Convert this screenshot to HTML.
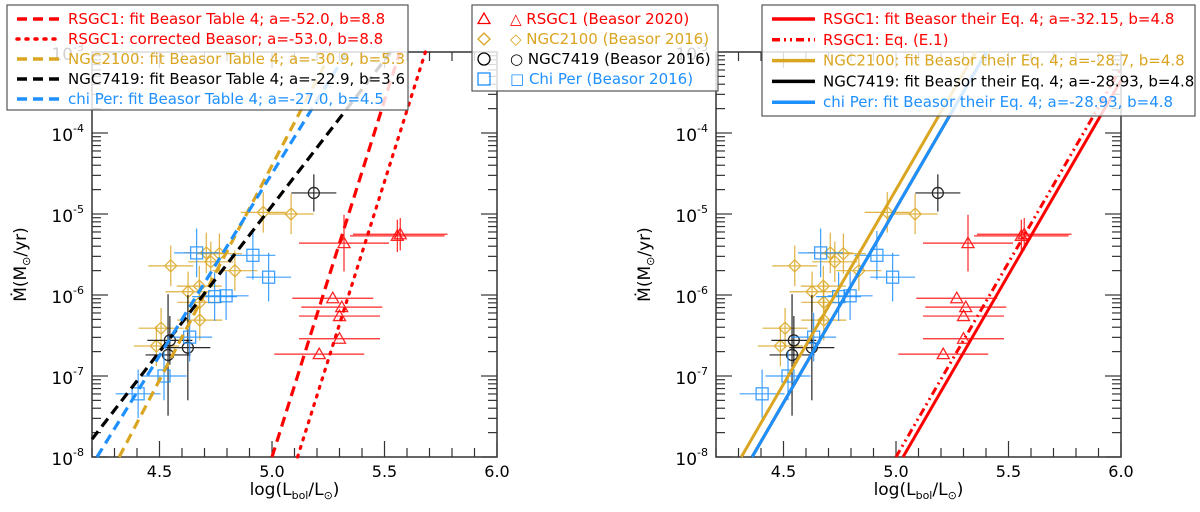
<!DOCTYPE html>
<html><head><meta charset="utf-8"><style>
html,body{margin:0;padding:0;background:#fff;width:1200px;height:512px;overflow:hidden;}
svg{display:block;font-family:"DejaVu Sans","Liberation Sans",sans-serif;overflow:hidden;}
</style></head><body>
<svg id="chart" width="1200" height="512" viewBox="0 0 1200 512" xmlns="http://www.w3.org/2000/svg"></svg>
<script>
const rsgc1X=[5.557,5.57,5.32,5.27,5.31,5.30,5.30,5.21];
const rsgc1Y=[-5.27,-5.25,-5.36,-6.04,-6.15,-6.26,-6.54,-6.73];
const rsgc1Xe=[0.21,0.21,0.2,0.18,0.18,0.18,0.18,0.2];
const rsgc1Ye=[0.2,0.2,0.35,0,0,0,0,0];
const ngc2100X=[4.961,5.085,4.55,4.708,4.766,4.728,4.835,4.677,4.627,4.679,4.679,4.507,4.486];
const ngc2100Y=[-4.98,-5.0,-5.64,-5.48,-5.49,-5.59,-5.70,-5.89,-5.96,-6.09,-6.31,-6.41,-6.63];
const ngc7419X=[5.186,4.546,4.538,4.626];
const ngc7419Y=[-4.74,-6.56,-6.74,-6.65];
const ngc7419Ye=[0.23,0.3,0.75,0.65];
const chiPerX=[4.665,4.915,4.985,4.745,4.796,4.634,4.52,4.405];
const chiPerY=[-5.48,-5.51,-5.78,-6.02,-6.01,-6.52,-7.0,-7.22];
const leftFitA=[-52.0,-53.0,-30.9,-22.9,-27.0];
const leftFitB=[8.8,8.8,5.3,3.6,4.5];
const rightFitA=[-32.15,-32.0,-28.7,-28.93,-28.93];
const rightFitB=[4.8,4.8,4.8,4.8,4.8];
const xTicks=[4.5,5.0,5.5,6.0];
const yTicks=[-3,-4,-5,-6,-7,-8];

const NS="http://www.w3.org/2000/svg";
const svg=document.getElementById('chart');
const RED="#ff0000",GOLD="#daa520",BLK="#000000",BLUE="#1e90ff";
function mk(tag,attrs,parent){const e=document.createElementNS(NS,tag);for(const k in attrs)e.setAttribute(k,attrs[k]);(parent||svg).appendChild(e);return e;}

function panel(ox,id){
  const L=ox,R=ox+405,T=52,B=457,xmin=4.2,xmax=6.0,ymin=-8,ymax=-3;
  const sx=v=>L+(v-xmin)/(xmax-xmin)*(R-L);
  const sy=v=>B-(v-ymin)/(ymax-ymin)*(B-T);
  const g=mk('g',{});
  
  
  for(let v=4.2;v<=6.0001;v+=0.1){
    const major=Math.abs(v*2-Math.round(v*2))<1e-6;const len=major?16:9;
    mk('line',{x1:sx(v),x2:sx(v),y1:B,y2:B-len,stroke:'#333','stroke-width':1.2},g);
    mk('line',{x1:sx(v),x2:sx(v),y1:T,y2:T+len,stroke:'#333','stroke-width':1.2},g);
  }
  for(let d=-8;d<-3;d++){for(let m=1;m<10;m++){const v=d+Math.log10(m);const len=m===1?16:9;
    mk('line',{x1:L,x2:L+len,y1:sy(v),y2:sy(v),stroke:'#333','stroke-width':1.2},g);
    mk('line',{x1:R,x2:R-len,y1:sy(v),y2:sy(v),stroke:'#333','stroke-width':1.2},g);}}
  mk('rect',{x:L,y:T,width:R-L,height:B-T,fill:'none',stroke:'#333','stroke-width':1.5},g);
  xTicks.forEach(v=>{const t=mk('text',{x:sx(v),y:B+20,'text-anchor':'middle','font-size':16},g);t.textContent=v.toFixed(1);
    });
  yTicks.forEach(v=>{const t=mk('text',{x:L-8,y:sy(v)+8,'text-anchor':'end','font-size':17},g);
    
    t.appendChild(document.createTextNode('10'));const s=mk('tspan',{'font-size':11,dy:-9},t);s.textContent=String(v);});
  const xl=mk('text',{x:(L+R)/2,y:495,'text-anchor':'middle','font-size':17},g);
  
  xl.appendChild(document.createTextNode('log(L'));let s=mk('tspan',{'font-size':11,dy:4},xl);s.textContent='bol';
  s=mk('tspan',{dy:-4},xl);s.textContent='/L';s=mk('tspan',{'font-size':11,dy:4},xl);s.textContent='\u2299';s=mk('tspan',{dy:-4},xl);s.textContent=')';
  const yx=L-66,yy=(T+B)/2+10;
  const yl=mk('text',{x:yx,y:yy,'text-anchor':'middle','font-size':17,transform:`rotate(-90 ${yx} ${yy})`},g);
  
  yl.appendChild(document.createTextNode('\u1E40(M'));s=mk('tspan',{'font-size':11,dy:4},yl);s.textContent='\u2299';s=mk('tspan',{dy:-4},yl);s.textContent='/yr)';
  return {g,sx,sy,xmin,xmax,ymin,ymax};
}

function fitLine(P,a,b,color,dash,w,name){
  // clip the segment to the data box analytically
  let x0=Math.max(P.xmin,(P.ymin-a)/b), x1=Math.min(P.xmax,(P.ymax-a)/b);
  if(x1<=x0)return;
  const l=mk('line',{x1:P.sx(x0),y1:P.sy(a+b*x0),x2:P.sx(x1),y2:P.sy(a+b*x1),stroke:color,'stroke-width':w,'stroke-dasharray':dash,'stroke-linecap':dash==='2,7'?'round':'butt'},P.g);
  
}
function marker(g,type,x,y,color,r){
  let e;
  if(type==='tri')e=mk('polygon',{points:`${x},${y-r} ${x-r},${y+r*0.75} ${x+r},${y+r*0.75}`,fill:'none',stroke:color,'stroke-width':1.3},g);
  else if(type==='dia')e=mk('polygon',{points:`${x},${y-r} ${x+r},${y} ${x},${y+r} ${x-r},${y}`,fill:'none',stroke:color,'stroke-width':1.3},g);
  else if(type==='circ')e=mk('circle',{cx:x,cy:y,r:r,fill:'none',stroke:color,'stroke-width':1.3},g);
  else e=mk('rect',{x:x-r,y:y-r,width:2*r,height:2*r,fill:'none',stroke:color,'stroke-width':1.3},g);
  return e;
}
function series(P,type,X,Y,Xe,Ye,color,name){
  for(let i=0;i<X.length;i++){
    const cx=P.sx(X[i]),cy=P.sy(Y[i]);
    const pg=mk('g',{opacity:0.85},P.g);
    
    mk('line',{x1:P.sx(X[i]-Xe[i]),x2:P.sx(X[i]+Xe[i]),y1:cy,y2:cy,stroke:color,'stroke-width':1.2},pg);
    if(Ye[i]>0)mk('line',{x1:cx,x2:cx,y1:P.sy(Y[i]+Ye[i]),y2:P.sy(Y[i]-Ye[i]),stroke:color,'stroke-width':1.2},pg);
    marker(pg,type,cx,cy,color,type==='circ'?5.5:6);
  }
}
function allData(P){
  series(P,'tri',rsgc1X,rsgc1Y,rsgc1Xe,rsgc1Ye,RED,'rsgc1');
  series(P,'dia',ngc2100X,ngc2100Y,ngc2100X.map(()=>0.1),ngc2100Y.map(()=>0.25),GOLD,'ngc2100');
  series(P,'circ',ngc7419X,ngc7419Y,ngc7419X.map(()=>0.1),ngc7419Ye,BLK,'ngc7419');
  series(P,'sq',chiPerX,chiPerY,chiPerX.map(()=>0.1),chiPerY.map(()=>0.3),BLUE,'chi-per');
}
function legend(x,y,w,h,rows,name){
  const g=mk('g',{});
  mk('rect',{x,y,width:w,height:h,fill:'#fff','fill-opacity':0.82,stroke:'#555','stroke-width':1.2},g);
  rows.forEach((r,i)=>{const ry=y+14+i*r.step;
    if(r.dash!==undefined)mk('line',{x1:x+10,x2:x+53,y1:ry,y2:ry,stroke:r.c,'stroke-width':3.5,'stroke-dasharray':r.dash,'stroke-linecap':r.dash==='2,7'?'round':'butt'},g);
    else{marker(g,r.m,x+12,ry,r.c,6);}
    const t=mk('text',{x:x+r.tx,y:ry+5,'font-size':15,fill:r.c},g);t.textContent=r.t;
    
  });
}
const P1=panel(92,'left-panel');
allData(P1);
const ld=['10,6','2,7','10,6','10,6','10,6'];const lc=[RED,RED,GOLD,BLK,BLUE];
const ln=['rsgc1-fit-table4','rsgc1-corrected','ngc2100-fit','ngc7419-fit','chi-per-fit'];
for(let i=0;i<5;i++)fitLine(P1,leftFitA[i],leftFitB[i],lc[i],ld[i],3.2,ln[i]);
const P2=panel(716,'right-panel');
allData(P2);
const rd=['','8,4,2,4,2,4','','',''];
const rn=['rsgc1-fit-eq4','rsgc1-eq-e1','ngc2100-fit-eq4','ngc7419-fit-eq4','chi-per-fit-eq4'];
for(let i=0;i<5;i++)fitLine(P2,rightFitA[i],rightFitB[i],lc[i],rd[i],3,rn[i]);
legend(7,5,401,105,[
 {dash:'10,6',c:RED,t:'RSGC1: fit Beasor Table 4; a=-52.0, b=8.8',tx:61,step:20},
 {dash:'2,7',c:RED,t:'RSGC1: corrected Beasor; a=-53.0, b=8.8',tx:61,step:20},
 {dash:'10,6',c:GOLD,t:'NGC2100: fit Beasor Table 4; a=-30.9, b=5.3',tx:61,step:20},
 {dash:'10,6',c:BLK,t:'NGC7419: fit Beasor Table 4; a=-22.9, b=3.6',tx:61,step:20},
 {dash:'10,6',c:BLUE,t:'chi Per: fit Beasor Table 4; a=-27.0, b=4.5',tx:61,step:20}],'left-legend');
legend(472,5,246,86,[
 {m:'tri',c:RED,t:'\u25B3 RSGC1 (Beasor 2020)',tx:38,step:20},
 {m:'dia',c:GOLD,t:'\u25C7 NGC2100 (Beasor 2016)',tx:38,step:20},
 {m:'circ',c:BLK,t:'\u25CB NGC7419 (Beasor 2016)',tx:38,step:20},
 {m:'sq',c:BLUE,t:'\u25A1 Chi Per (Beasor 2016)',tx:38,step:20}],'marker-legend');
legend(762,5,433,111,[
 {dash:'',c:RED,t:'RSGC1: fit Beasor their Eq. 4; a=-32.15, b=4.8',tx:61,step:20.8},
 {dash:'8,4,2,4,2,4',c:RED,t:'RSGC1: Eq. (E.1)',tx:61,step:20.8},
 {dash:'',c:GOLD,t:'NGC2100: fit Beasor their Eq. 4; a=-28.7, b=4.8',tx:61,step:20.8},
 {dash:'',c:BLK,t:'NGC7419: fit Beasor their Eq. 4; a=-28.93, b=4.8',tx:61,step:20.8},
 {dash:'',c:BLUE,t:'chi Per: fit Beasor their Eq. 4; a=-28.93, b=4.8',tx:61,step:20.8}],'right-legend');
</script>
</body></html>
